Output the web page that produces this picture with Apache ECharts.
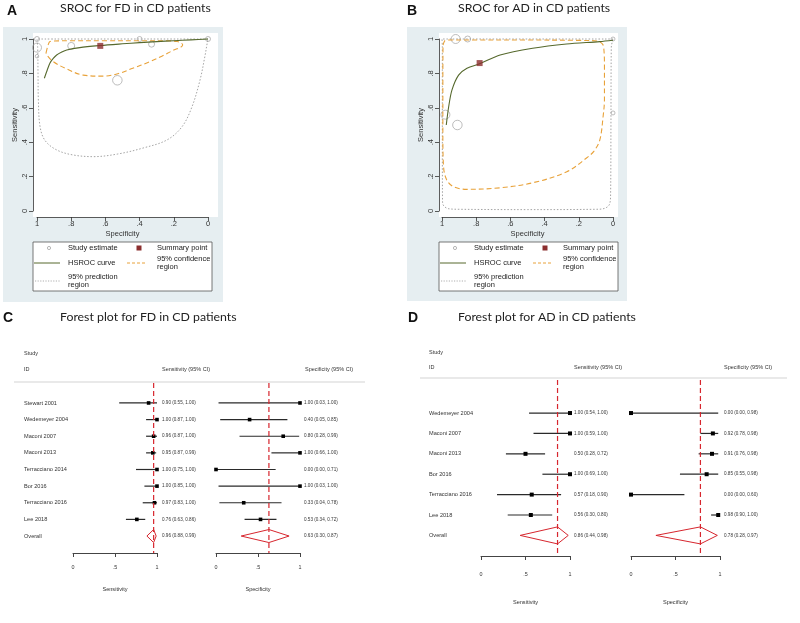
<!DOCTYPE html>
<html>
<head>
<meta charset="utf-8">
<script src="https://cdn.jsdelivr.net/npm/echarts/dist/echarts.min.js"></script>
<style>
  html, body { margin: 0; padding: 0; background: #fff; }
  #main { width: 800px; height: 623px; }
</style>
</head>
<body>
<div id="main"></div>
<script>
// ---------- forest plot data (FD) ----------
var fdStudies = ['Stewart 2001', 'Wedemeyer 2004', 'Maconi 2007', 'Maconi 2013', 'Terracciano 2014', 'Bor 2016', 'Terracciano 2016', 'Lee 2018'];
var fdSens   = [0.90, 1.00, 0.96, 0.95, 1.00, 1.00, 0.97, 0.76];
var fdSensLo = [0.55, 0.87, 0.87, 0.87, 0.75, 0.85, 0.83, 0.63];
var fdSensHi = [1.00, 1.00, 1.00, 0.99, 1.00, 1.00, 1.00, 0.86];
var fdSpec   = [1.00, 0.40, 0.80, 1.00, 0.00, 1.00, 0.33, 0.53];
var fdSpecLo = [0.03, 0.05, 0.28, 0.66, 0.00, 0.03, 0.04, 0.34];
var fdSpecHi = [1.00, 0.85, 0.99, 1.00, 0.71, 1.00, 0.78, 0.72];
var fdSensPooled = [0.96, 0.88, 0.99];
var fdSpecPooled = [0.63, 0.30, 0.87];
var fdWeight = [3.5, 5, 7, 9, 5, 5, 6, 9.5];

// ---------- forest plot data (AD) ----------
var adStudies = ['Wedemeyer 2004', 'Maconi 2007', 'Maconi 2013', 'Bor 2016', 'Terracciano 2016', 'Lee 2018'];
var adSens   = [1.00, 1.00, 0.50, 1.00, 0.57, 0.56];
var adSensLo = [0.54, 0.59, 0.28, 0.69, 0.18, 0.30];
var adSensHi = [1.00, 1.00, 0.72, 1.00, 0.90, 0.80];
var adSpec   = [0.00, 0.92, 0.91, 0.85, 0.00, 0.98];
var adSpecLo = [0.00, 0.78, 0.76, 0.55, 0.00, 0.90];
var adSpecHi = [0.98, 0.98, 0.98, 0.98, 0.60, 1.00];
var adSensPooled = [0.86, 0.44, 0.98];
var adSpecPooled = [0.78, 0.28, 0.97];
var adWeight = [4, 9, 9.5, 6, 4, 9];

// ---------- SROC curves (specificity, sensitivity) ----------
var fdHsrocSpec = [0.957, 0.94, 0.924, 0.905, 0.885, 0.855, 0.826, 0.75, 0.63, 0.5, 0.4, 0.3, 0.2, 0.1, 0];
var fdHsrocSens = [0.772, 0.82, 0.86, 0.887, 0.907, 0.924, 0.936, 0.95, 0.962, 0.972, 0.979, 0.985, 0.99, 0.995, 1.0];
var fdConfSpec = [0.947, 0.935, 0.924, 0.9, 0.8, 0.6, 0.4, 0.25, 0.18, 0.155, 0.148, 0.16, 0.2, 0.27, 0.34, 0.44, 0.52, 0.61, 0.73, 0.826, 0.905, 0.943, 0.947];
var fdConfSens = [0.92, 0.965, 0.985, 0.988, 0.99, 0.99, 0.99, 0.99, 0.985, 0.975, 0.965, 0.952, 0.936, 0.9, 0.868, 0.83, 0.8, 0.784, 0.79, 0.826, 0.868, 0.907, 0.92];
var fdPredSpec = [0, 1.0, 0.996, 0.994, 0.992, 0.982, 0.953, 0.885, 0.79, 0.67, 0.53, 0.38, 0.24, 0.152, 0.094, 0.047, 0.018, 0.004, 0];
var fdPredSens = [1, 1, 0.95, 0.8, 0.645, 0.49, 0.41, 0.355, 0.326, 0.316, 0.331, 0.366, 0.413, 0.49, 0.605, 0.76, 0.9, 0.98, 1];

var adHsrocSpec = [0.975, 0.961, 0.942, 0.903, 0.854, 0.78, 0.66, 0.47, 0.272, 0.078, 0];
var adHsrocSens = [0.5, 0.606, 0.703, 0.79, 0.83, 0.856, 0.907, 0.946, 0.971, 0.985, 0.993];
var adConfSpec = [0.994, 0.985, 0.97, 0.8, 0.5, 0.2, 0.093, 0.065, 0.055, 0.05, 0.05, 0.058, 0.077, 0.11, 0.155, 0.27, 0.466, 0.66, 0.854, 0.933, 0.972, 0.991, 0.995, 0.995, 0.994];
var adConfSens = [0.965, 0.988, 0.994, 0.994, 0.994, 0.992, 0.988, 0.975, 0.955, 0.85, 0.65, 0.548, 0.413, 0.35, 0.308, 0.228, 0.165, 0.135, 0.126, 0.141, 0.18, 0.258, 0.453, 0.8, 0.965];
var adPredSpec = [0, 1, 0.998, 0.998, 0.997, 0.99, 0.96, 0.9, 0.5, 0.1, 0.05, 0.02, 0.014, 0.012, 0.01, 0.003, 0];
var adPredSens = [1, 1, 0.95, 0.5, 0.06, 0.03, 0.013, 0.01, 0.008, 0.01, 0.015, 0.04, 0.1, 0.5, 0.95, 0.99, 1];

var sroTicks = 0.2;
var forestTicks = 0.5;

// ---------- helpers ----------
var SANS = '"Liberation Sans", Arial, sans-serif';
var TITLE = 'Lato, "Open Sans", sans-serif';

function zip(a, b, c) {
  return a.map(function (v, i) { return c ? [v, b[i], c[i]] : [v, b[i]]; });
}
function tickFmt(v) {
  if (Math.abs(v) < 1e-9) return '0';
  if (Math.abs(v - 1) < 1e-9) return '1';
  return v.toFixed(1).replace(/^0/, '');
}
function ciText(e, l, h) {
  return e.toFixed(2) + ' (' + l.toFixed(2) + ', ' + h.toFixed(2) + ')';
}

// forest rows: [row, est, lo, hi]
function rows(est, lo, hi) {
  return est.map(function (v, i) { return [i, v, lo[i], hi[i]]; });
}

function ciSeries(axisIdx, data, names, nameOff, sq, textOff) {
  return {
    type: 'custom', xAxisIndex: axisIdx, yAxisIndex: axisIdx, silent: true,
    data: data,
    renderItem: function (params, api) {
      var y = api.value(0), e = api.value(1), l = api.value(2), h = api.value(3);
      var pl = api.coord([l, y]), ph = api.coord([h, y]), pe = api.coord([e, y]);
      var p1 = api.coord([1, y]), p0 = api.coord([0, y]);
      var kids = [
        { type: 'line', shape: { x1: pl[0], y1: pl[1], x2: ph[0], y2: ph[1] }, style: { stroke: '#2a2a2a', lineWidth: 1.2 } },
        { type: 'rect', shape: { x: pe[0] - sq / 2, y: pe[1] - sq / 2, width: sq, height: sq }, style: { fill: '#000' } },
        { type: 'text', x: p1[0] + textOff, y: p1[1], style: { text: ciText(e, l, h), font: '4.6px ' + SANS, fill: '#333', verticalAlign: 'middle', align: 'left' } }
      ];
      if (names) {
        kids.push({ type: 'text', x: p0[0] - nameOff, y: p0[1], style: { text: names[params.dataIndex], font: '5.6px ' + SANS, fill: '#333', verticalAlign: 'middle', align: 'left' } });
      }
      return { type: 'group', children: kids };
    }
  };
}

function pooledSeries(axisIdx, row, pooled, hh, yMin, yMax, withName, nameOff, textOff) {
  return {
    type: 'custom', xAxisIndex: axisIdx, yAxisIndex: axisIdx, silent: true,
    data: [[row, pooled[0], pooled[1], pooled[2]]],
    renderItem: function (params, api) {
      var y = api.value(0), e = api.value(1), l = api.value(2), h = api.value(3);
      var pl = api.coord([l, y]), ph = api.coord([h, y]), pe = api.coord([e, y]);
      var top = api.coord([e, yMin]), bot = api.coord([e, yMax]);
      var p1 = api.coord([1, y]), p0 = api.coord([0, y]);
      var kids = [
        { type: 'line', shape: { x1: top[0], y1: top[1], x2: bot[0], y2: bot[1] }, style: { stroke: '#d7262e', lineWidth: 1.2, lineDash: [5, 3] } },
        { type: 'polygon', shape: { points: [[pl[0], pl[1]], [pe[0], pe[1] - hh], [ph[0], ph[1]], [pe[0], pe[1] + hh]] }, style: { fill: 'none', stroke: '#d7262e', lineWidth: 1 } },
        { type: 'text', x: p1[0] + textOff, y: p1[1], style: { text: ciText(e, l, h), font: '4.6px ' + SANS, fill: '#333', verticalAlign: 'middle', align: 'left' } }
      ];
      if (withName) {
        kids.push({ type: 'text', x: p0[0] - nameOff, y: p0[1], style: { text: 'Overall', font: '5.6px ' + SANS, fill: '#333', verticalAlign: 'middle', align: 'left' } });
      }
      return { type: 'group', children: kids };
    }
  };
}

function srocX(grid) {
  return {
    gridIndex: grid, type: 'value', min: 0, max: 1, interval: sroTicks, inverse: true, offset: 6,
    axisLine: { onZero: false, lineStyle: { color: '#333', width: 0.8 } },
    axisTick: { length: 4, lineStyle: { color: '#333', width: 0.8 } },
    axisLabel: { formatter: tickFmt, fontSize: 7.5, fontFamily: SANS, color: '#333', margin: 3 },
    splitLine: { show: false },
    name: 'Specificity', nameLocation: 'middle', nameGap: 13,
    nameTextStyle: { fontSize: 7.5, fontFamily: SANS, color: '#333' }
  };
}
function srocY(grid, off) {
  return {
    gridIndex: grid, type: 'value', min: 0, max: 1, interval: sroTicks, offset: off,
    axisLine: { show: true, onZero: false, lineStyle: { color: '#333', width: 0.8 } },
    axisTick: { show: true, length: 4, lineStyle: { color: '#333', width: 0.8 } },
    axisLabel: { formatter: tickFmt, rotate: 90, fontSize: 7.5, fontFamily: SANS, color: '#333', margin: 4 },
    splitLine: { show: false },
    name: 'Sensitivity', nameLocation: 'middle', nameGap: 14, nameRotate: 90,
    nameTextStyle: { fontSize: 7.5, fontFamily: SANS, color: '#333' }
  };
}
function forestX(grid, name, margin, gap) {
  return {
    gridIndex: grid, type: 'value', min: 0, max: 1, interval: forestTicks,
    axisLine: { onZero: false, lineStyle: { color: '#444', width: 1 } },
    axisTick: { length: 4, lineStyle: { color: '#444', width: 1 } },
    axisLabel: { formatter: tickFmt, fontSize: 5.4, fontFamily: SANS, color: '#333', margin: margin },
    splitLine: { show: false },
    name: name, nameLocation: 'middle', nameGap: gap,
    nameTextStyle: { fontSize: 5.6, fontFamily: SANS, color: '#333' }
  };
}
function forestY(grid, mn, mx) {
  return { gridIndex: grid, type: 'value', inverse: true, min: mn, max: mx, show: false };
}

function srocSeries(axis, predS, predN, confS, confN, hsS, hsN, stSpec, stSens, stW, pooledSp, pooledSe) {
  return [
    { type: 'line', xAxisIndex: axis, yAxisIndex: axis, data: zip(predS, predN), showSymbol: false, smooth: 0.35, clip: false, silent: true,
      lineStyle: { color: '#9a9a9a', width: 0.9, type: [1.5, 1.8] } },
    { type: 'line', xAxisIndex: axis, yAxisIndex: axis, data: zip(confS, confN), showSymbol: false, smooth: 0.35, clip: false, silent: true,
      lineStyle: { color: '#e8a23a', width: 1.1, type: [5, 3] } },
    { type: 'line', xAxisIndex: axis, yAxisIndex: axis, data: zip(hsS, hsN), showSymbol: false, smooth: 0.3, clip: false, silent: true,
      lineStyle: { color: '#56692d', width: 1.1 } },
    { type: 'scatter', xAxisIndex: axis, yAxisIndex: axis, data: zip(stSpec, stSens, stW), clip: false, silent: true,
      symbol: 'circle', symbolSize: function (d) { return d[2]; },
      itemStyle: { color: 'rgba(255,255,255,0)', borderColor: '#a3a3a3', borderWidth: 0.9 } },
    { type: 'scatter', xAxisIndex: axis, yAxisIndex: axis, data: [[pooledSp, pooledSe]], clip: false, silent: true,
      symbol: 'rect', symbolSize: 6, itemStyle: { color: '#8b2e2e' }, z: 5 }
  ];
}

function legendBox(dx) {
  var t = function (s, x, y) {
    return { type: 'text', x: x + dx, y: y, z: 10, style: { text: s, font: '7.5px ' + SANS, fill: '#222', verticalAlign: 'middle', lineHeight: 8 } };
  };
  return [
    { type: 'rect', z: 8, shape: { x: 33 + dx, y: 242, width: 179, height: 49 }, style: { fill: '#fff', stroke: '#555', lineWidth: 0.8 } },
    { type: 'circle', z: 10, shape: { cx: 49 + dx, cy: 248, r: 1.6 }, style: { fill: 'none', stroke: '#a3a3a3', lineWidth: 0.8 } },
    t('Study estimate', 68, 248),
    { type: 'rect', z: 10, shape: { x: 136.5 + dx, y: 245.5, width: 5, height: 5 }, style: { fill: '#8b2e2e' } },
    t('Summary point', 157, 248),
    { type: 'line', z: 10, shape: { x1: 34 + dx, y1: 263, x2: 60 + dx, y2: 263 }, style: { stroke: '#56692d', lineWidth: 1 } },
    t('HSROC curve', 68, 263),
    { type: 'line', z: 10, shape: { x1: 127 + dx, y1: 263, x2: 145 + dx, y2: 263 }, style: { stroke: '#e8a23a', lineWidth: 1, lineDash: [3, 2] } },
    t('95% confidence\nregion', 157, 263),
    { type: 'line', z: 10, shape: { x1: 35 + dx, y1: 281, x2: 60 + dx, y2: 281 }, style: { stroke: '#9a9a9a', lineWidth: 0.8, lineDash: [1.2, 1.4] } },
    t('95% prediction\nregion', 68, 281)
  ];
}

function txt(s, x, y, font, extra) {
  var st = { text: s, font: font, fill: '#222', verticalAlign: 'middle', align: 'left' };
  if (extra) for (var k in extra) st[k] = extra[k];
  return { type: 'text', x: x, y: y, z: 10, style: st };
}

var hdr = '5.5px ' + SANS;
var ttl = '12.3px ' + TITLE;
var graphics = [
  // SROC panel backgrounds
  { type: 'rect', z: -20, shape: { x: 3, y: 27, width: 220, height: 275 }, style: { fill: '#e6eef1' } },
  { type: 'rect', z: -19, shape: { x: 33, y: 33, width: 185, height: 184 }, style: { fill: '#fff' } },
  { type: 'rect', z: -20, shape: { x: 407, y: 27, width: 220, height: 274 }, style: { fill: '#e6eef1' } },
  { type: 'rect', z: -19, shape: { x: 439, y: 33, width: 179, height: 184 }, style: { fill: '#fff' } },
  // panel letters and titles
  txt('A', 7, 11, 'bold 14px ' + SANS, { fill: '#111' }),
  txt('SROC for FD in CD patients', 60, 8, ttl),
  txt('B', 407, 11, 'bold 14px ' + SANS, { fill: '#111' }),
  txt('SROC for AD in CD patients', 458, 8, ttl),
  txt('C', 3, 318, 'bold 14px ' + SANS, { fill: '#111' }),
  txt('Forest plot for FD in CD patients', 60, 317, ttl),
  txt('D', 408, 318, 'bold 14px ' + SANS, { fill: '#111' }),
  txt('Forest plot for AD in CD patients', 458, 317, ttl),
  // forest headers
  txt('Study', 24, 353, hdr, { fill: '#333' }),
  txt('ID', 24, 369, hdr, { fill: '#333' }),
  txt('Sensitivity (95% CI)', 162, 369, hdr, { fill: '#333' }),
  txt('Specificity (95% CI)', 305, 369, hdr, { fill: '#333' }),
  { type: 'line', z: 1, shape: { x1: 14, y1: 382, x2: 365, y2: 382 }, style: { stroke: '#e2e2e2', lineWidth: 1.4 } },
  txt('Study', 429, 352, hdr, { fill: '#333' }),
  txt('ID', 429, 367, hdr, { fill: '#333' }),
  txt('Sensitivity (95% CI)', 574, 367, hdr, { fill: '#333' }),
  txt('Specificity (95% CI)', 724, 367, hdr, { fill: '#333' }),
  { type: 'line', z: 1, shape: { x1: 420, y1: 378, x2: 787, y2: 378 }, style: { stroke: '#e2e2e2', lineWidth: 1.4 } }
].concat(legendBox(0), legendBox(406));

// y ranges of forest panels (row index units)
var cMin = -1.2, cMax = 9.02, dMin = -1.62, dMax = 7.01;

var option = {
  animation: false,
  backgroundColor: '#fff',
  grid: [
    { left: 37, top: 39, width: 171, height: 172 },
    { left: 442, top: 39, width: 171, height: 172 },
    { left: 73, top: 383, width: 84, height: 170 },
    { left: 216, top: 383, width: 84, height: 170 },
    { left: 481, top: 380, width: 89, height: 176 },
    { left: 631, top: 380, width: 89, height: 176 }
  ],
  xAxis: [
    srocX(0), srocX(1),
    forestX(2, 'Sensitivity', 12, 33), forestX(3, 'Specificity', 12, 33),
    forestX(4, 'Sensitivity', 16, 43), forestX(5, 'Specificity', 16, 43)
  ],
  yAxis: [
    srocY(0, 4), srocY(1, 3),
    forestY(2, cMin, cMax), forestY(3, cMin, cMax),
    forestY(4, dMin, dMax), forestY(5, dMin, dMax)
  ],
  graphic: { elements: graphics },
  series: []
    .concat(srocSeries(0, fdPredSpec, fdPredSens, fdConfSpec, fdConfSens, fdHsrocSpec, fdHsrocSens, fdSpec, fdSens, fdWeight, fdSpecPooled[0], fdSensPooled[0]))
    .concat(srocSeries(1, adPredSpec, adPredSens, adConfSpec, adConfSens, adHsrocSpec, adHsrocSens, adSpec, adSens, adWeight, adSpecPooled[0], adSensPooled[0]))
    .concat([
      ciSeries(2, rows(fdSens, fdSensLo, fdSensHi), fdStudies, 49, 3.6, 5),
      pooledSeries(2, fdStudies.length, fdSensPooled, 6.5, cMin, cMax, true, 49, 5),
      ciSeries(3, rows(fdSpec, fdSpecLo, fdSpecHi), null, 0, 3.6, 4),
      pooledSeries(3, fdStudies.length, fdSpecPooled, 6.5, cMin, cMax, false, 0, 4),
      ciSeries(4, rows(adSens, adSensLo, adSensHi), adStudies, 52, 4, 4),
      pooledSeries(4, adStudies.length, adSensPooled, 8.5, dMin, dMax, true, 52, 4),
      ciSeries(5, rows(adSpec, adSpecLo, adSpecHi), null, 0, 4, 4),
      pooledSeries(5, adStudies.length, adSpecPooled, 8.5, dMin, dMax, false, 0, 4)
    ])
};

var chart = echarts.init(document.getElementById('main'), null, { renderer: 'canvas' });
chart.setOption(option);
</script>
</body>
</html>
